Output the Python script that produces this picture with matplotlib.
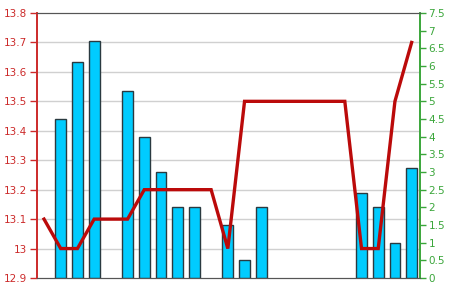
import matplotlib.pyplot as plt
from matplotlib.ticker import MultipleLocator, FormatStrFormatter, FuncFormatter

# categories (23 slots, some without a bar)
cats = list(range(23))
# bar values, read on the right (green) axis; None = no bar
bar_vals = [None, 4.5, 6.1, 6.7, None, 5.3, 4.0, 3.0, 2.0, 2.0, None,
            1.5, 0.5, 2.0, None, None, None, None, None, 2.4, 2.0, 1.0, 3.1]
# line values, read on the left (red) axis
line_vals = [13.1, 13.0, 13.0, 13.1, 13.1, 13.1, 13.2, 13.2, 13.2, 13.2, 13.2,
             13.0, 13.5, 13.5, 13.5, 13.5, 13.5, 13.5, 13.5, 13.0, 13.0, 13.5, 13.7]

red = '#cc2a2a'
green = '#3aa63a'

fig = plt.figure(figsize=(4.5, 2.91), dpi=100)
ax = fig.add_axes([37/450, 13/291, 383/450, 265/291])
ax2 = ax.twinx()
# line axis on top of bar axis
ax.set_zorder(ax2.get_zorder() + 1)
ax.patch.set_visible(False)

bx = [c for c, v in zip(cats, bar_vals) if v is not None]
bh = [v for v in bar_vals if v is not None]
ax2.bar(bx, bh, width=0.65, color='#00ccff', edgecolor='#2a3a40', linewidth=1.0, zorder=3)

ax.plot(cats, line_vals, color='#bb0a0a', linewidth=2.4, zorder=5, solid_joinstyle='miter')

ax.set_ylim(12.9, 13.8)
ax2.set_ylim(0, 7.5)
ax.set_xlim(-0.42, 22.5)

ax.yaxis.set_major_locator(MultipleLocator(0.1))
ax.yaxis.set_major_formatter(FuncFormatter(lambda v, p: '%g' % round(v, 1)))
ax2.yaxis.set_major_locator(MultipleLocator(0.5))
ax2.yaxis.set_major_formatter(FuncFormatter(lambda v, p: '%g' % v))

# grid at left ticks, drawn behind the bars
for v in [13.0, 13.1, 13.2, 13.3, 13.4, 13.5, 13.6, 13.7]:
    ax2.plot([0, 1], [v, v], transform=ax.get_yaxis_transform(),
             color='#d0d0d0', linewidth=1.0, zorder=1)

ax.set_xticks([])
ax2.set_xticks([])

ax.tick_params(axis='y', colors=red, labelsize=7.5, length=5, width=1, pad=2)
ax2.tick_params(axis='y', colors=green, labelsize=7.5, length=4, width=1, pad=2)

for a in (ax, ax2):
    a.spines['left'].set_color(red)
    a.spines['right'].set_color(green)
    a.spines['top'].set_color('#555555')
    a.spines['bottom'].set_color('#555555')
    a.spines['left'].set_linewidth(1.2)
    a.spines['right'].set_linewidth(1.2)

plt.savefig('out.png', dpi=100)
